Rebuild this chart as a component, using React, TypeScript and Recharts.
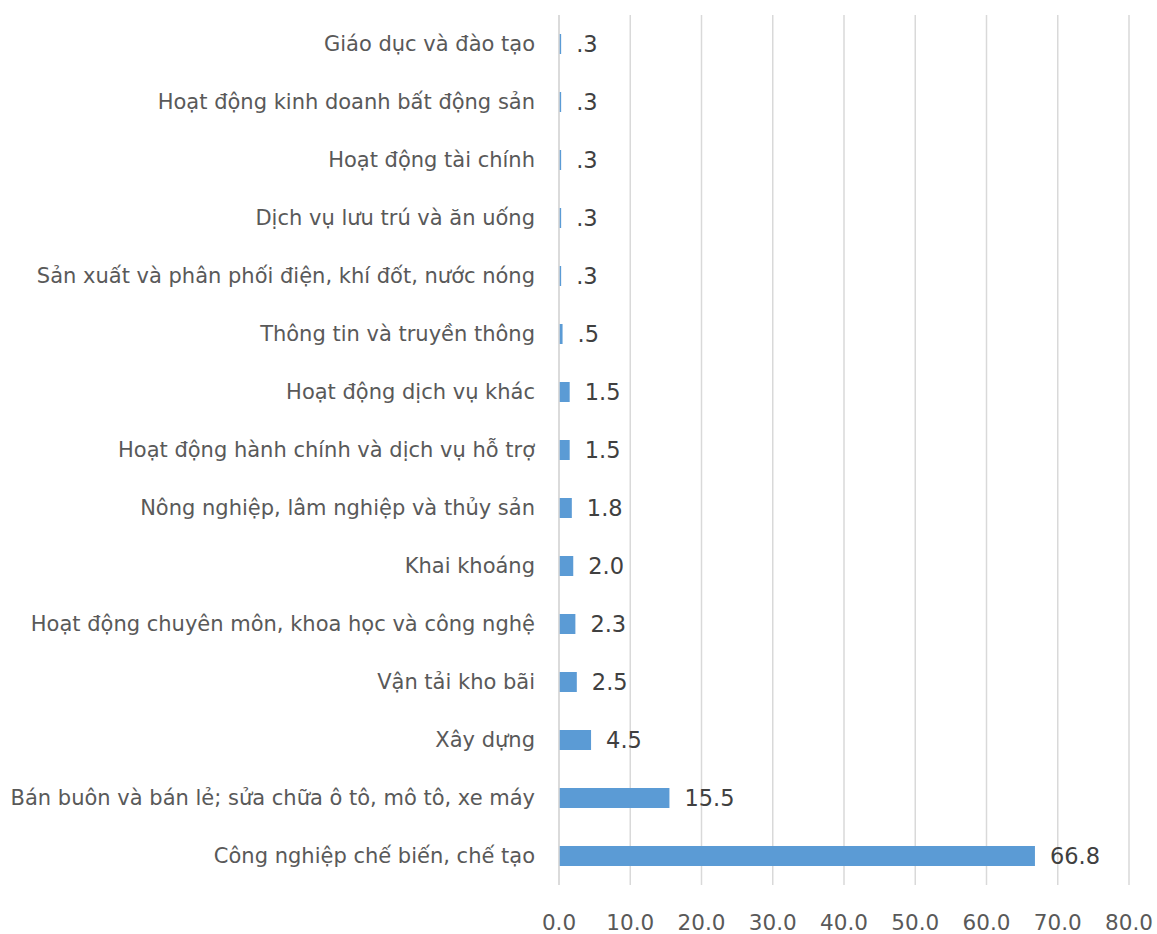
import { BarChart, Bar, XAxis, YAxis, CartesianGrid, LabelList } from 'recharts'

const categories = [
  'Giáo dục và đào tạo',
  'Hoạt động kinh doanh bất động sản',
  'Hoạt động tài chính',
  'Dịch vụ lưu trú và ăn uống',
  'Sản xuất và phân phối điện, khí đốt, nước nóng',
  'Thông tin và truyền thông',
  'Hoạt động dịch vụ khác',
  'Hoạt động hành chính và dịch vụ hỗ trợ',
  'Nông nghiệp, lâm nghiệp và thủy sản',
  'Khai khoáng',
  'Hoạt động chuyên môn, khoa học và công nghệ',
  'Vận tải kho bãi',
  'Xây dựng',
  'Bán buôn và bán lẻ; sửa chữa ô tô, mô tô, xe máy',
  'Công nghiệp chế biến, chế tạo',
]

const values = [0.3, 0.3, 0.3, 0.3, 0.3, 0.5, 1.5, 1.5, 1.8, 2.0, 2.3, 2.5, 4.5, 15.5, 66.8]

const xTicks = [0, 10, 20, 30, 40, 50, 60, 70, 80]

const data = categories.map((name, i) => ({ name, value: values[i] }))

const fmtValue = (v: number) => {
  const s = v.toFixed(1)
  return v < 1 ? s.replace(/^0/, '') : s
}

const FONT = '"DejaVu Sans", sans-serif'

export default function App() {
  return (
    <div style={{ position: 'absolute', left: 0, top: 0, background: '#fff' }}>
      <BarChart
        width={1157}
        height={934}
        data={data}
        layout="vertical"
        margin={{ top: 15, right: 28, bottom: 0, left: 0 }}
        barCategoryGap={19}
      >
        <CartesianGrid horizontal={false} vertical stroke="#d9d9d9" strokeWidth={1.5} />
        <XAxis
          type="number"
          domain={[0, 80]}
          ticks={xTicks}
          tickFormatter={(v: number) => v.toFixed(1)}
          axisLine={false}
          tickLine={false}
          height={49}
          tickMargin={24}
          tick={{ fill: '#595959', fontSize: 21.5, fontFamily: FONT }}
          interval={0}
        />
        <YAxis
          type="category"
          dataKey="name"
          width={559}
          axisLine={{ stroke: '#d9d9d9', strokeWidth: 1.5 }}
          tickLine={false}
          tickMargin={18}
          interval={0}
          tick={{ fill: '#595959', fontSize: 21, fontFamily: FONT }}
        />
        <Bar dataKey="value" fill="#5b9bd5" isAnimationActive={false}>
          <LabelList
            dataKey="value"
            position="right"
            offset={15}
            formatter={(v: number) => fmtValue(v)}
            style={{ fill: '#404040', fontSize: 22.5, fontFamily: FONT }}
          />
        </Bar>
      </BarChart>
    </div>
  )
}
